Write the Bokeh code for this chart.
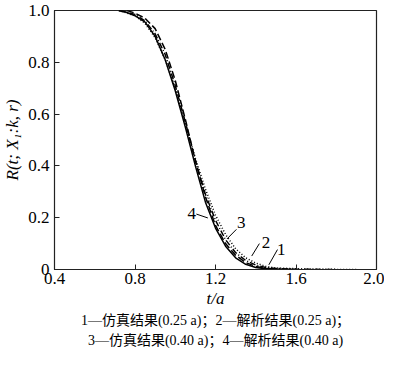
import numpy as np
from bokeh.plotting import figure
from bokeh.models import FixedTicker, Title
from bokeh.core.properties import value
from bokeh.embed import file_html
from bokeh.resources import INLINE

# --- data ---
t1 = [0.72, 0.80, 0.85, 0.90, 0.95, 1.00, 1.05, 1.10, 1.15, 1.20, 1.25, 1.30, 1.35, 1.40, 1.45, 1.50, 1.60, 1.80]
r1 = [1.00, 0.985, 0.96, 0.91, 0.83, 0.71, 0.57, 0.42, 0.29, 0.19, 0.115, 0.065, 0.035, 0.017, 0.008, 0.004, 0.001, 0.0]
t2 = [0.76, 0.80, 0.85, 0.90, 0.95, 1.00, 1.05, 1.10, 1.15, 1.20, 1.25, 1.30, 1.35, 1.40, 1.45, 1.50, 1.60]
r2 = [1.00, 0.99, 0.97, 0.93, 0.85, 0.73, 0.58, 0.42, 0.28, 0.17, 0.10, 0.055, 0.027, 0.012, 0.005, 0.002, 0.0]
t3 = [0.72, 0.80, 0.85, 0.90, 0.95, 1.00, 1.05, 1.10, 1.15, 1.20, 1.25, 1.30, 1.35, 1.40, 1.45, 1.50, 1.60, 1.70, 1.90]
r3 = [1.00, 0.98, 0.95, 0.895, 0.81, 0.70, 0.565, 0.43, 0.31, 0.21, 0.135, 0.08, 0.045, 0.025, 0.012, 0.006, 0.003, 0.001, 0.0]
t4 = [0.72, 0.75, 0.80, 0.85, 0.90, 0.95, 1.00, 1.05, 1.10, 1.15, 1.20, 1.25, 1.30, 1.35, 1.40, 1.45, 1.50, 1.60]
r4 = [1.00, 0.995, 0.98, 0.955, 0.90, 0.81, 0.69, 0.55, 0.40, 0.26, 0.16, 0.09, 0.045, 0.02, 0.008, 0.003, 0.001, 0.0]

x_ticks = [0.4, 0.8, 1.2, 1.6, 2.0]
y_ticks = [0, 0.2, 0.4, 0.6, 0.8, 1.0]

curve_names = ["1", "2", "3", "4"]
name_x = [1.527, 1.451, 1.328, 1.082]
name_y = [0.077, 0.103, 0.181, 0.218]
lead_x0 = [1.508, 1.418, 1.304, 1.105]
lead_y0 = [0.077, 0.100, 0.155, 0.214]
lead_x1 = [1.465, 1.380, 1.257, 1.162]
lead_y1 = [0.018, 0.052, 0.118, 0.199]

x_title = "t/a"
y_title = "R(t; X₁:k, r)"
caption1 = "1—仿真结果(0.25 a)；2—解析结果(0.25 a)；"
caption2 = "3—仿真结果(0.40 a)；4—解析结果(0.40 a)"

SERIF = "'Liberation Serif', 'Noto Sans CJK SC'"

p = figure(width=384, height=350, output_backend="svg", toolbar_location=None,
           x_range=(0.4, 2.0), y_range=(0, 1.0),
           min_border_left=4, min_border_right=8, min_border_top=10, min_border_bottom=0)
p.grid.visible = False
p.outline_line_color = "#222222"
p.outline_line_width = 1.2
p.background_fill_color = "white"
p.border_fill_color = "white"

for ax in (p.xaxis[0], p.yaxis[0]):
    ax.major_tick_in = 5
    ax.major_tick_out = 0
    ax.minor_tick_line_color = None
    ax.axis_line_color = "#222222"
    ax.major_tick_line_color = "#222222"
    ax.major_label_text_font = "Liberation Serif"
    ax.major_label_text_font_size = "17px"
    ax.major_label_text_color = "black"
    ax.axis_label_text_font = "Liberation Serif"
    ax.axis_label_text_font_size = "17px"
    ax.axis_label_text_font_style = "italic"
    ax.axis_label_text_color = "black"
p.xaxis.ticker = FixedTicker(ticks=x_ticks)
p.yaxis.ticker = FixedTicker(ticks=y_ticks)
p.xaxis.major_label_overrides = {2.0: "2.0"}
p.yaxis.major_label_overrides = {0: "0", 1.0: "1.0"}
p.xaxis.major_label_standoff = 3
p.yaxis.major_label_standoff = 5
p.xaxis.axis_label = x_title
p.yaxis.axis_label = y_title
p.xaxis.axis_label_standoff = 2
p.yaxis.axis_label_standoff = 3

lw = 1.5
p.line(t1, r1, line_color="black", line_width=lw, line_dash="6 2 1 2")
p.line(t2, r2, line_color="black", line_width=lw, line_dash="7 3")
p.line(t3, r3, line_color="black", line_width=lw, line_dash="1 2")
p.line(t4, r4, line_color="black", line_width=lw)

p.segment(x0=lead_x0, y0=lead_y0, x1=lead_x1, y1=lead_y1, line_color="black", line_width=1)
p.text(x=name_x, y=name_y, text=curve_names, text_font=value("Liberation Serif"),
       text_font_size="17px", text_align="center", text_baseline="middle", text_color="black")

# caption lines below the axis
for cap, so in ((caption1, 0), (caption2, 6)):
    t = Title(text=cap, align="center", text_font=SERIF, text_font_size="14px",
              text_font_style="normal", text_color="black", standoff=so, offset=0)
    p.add_layout(t, "below")

open("out.html", "w").write(file_html(p, INLINE))
